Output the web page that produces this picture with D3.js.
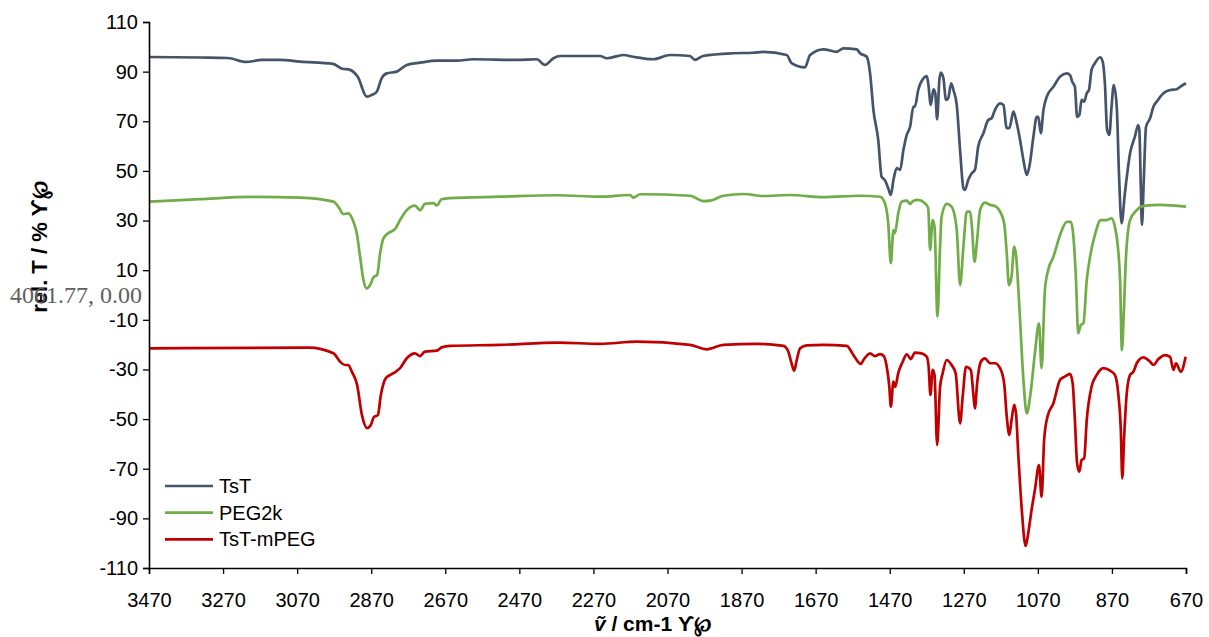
<!DOCTYPE html>
<html>
<head>
<meta charset="utf-8">
<script src="https://cdn.jsdelivr.net/npm/d3@7"></script>
<style>
  body { margin: 0; background: #fff; }
  text { font-family: "Liberation Sans", Arial, sans-serif; }
</style>
</head>
<body>
<div id="chart"></div>
<script>
// series names + colours
var seriesNames = ["TsT", "PEG2k", "TsT-mPEG"];
var seriesColors = ["#44546A", "#70AD47", "#C00000"];

// [wavenumber, rel. T]
var tst = [
  [3470,95.9],[3332,95.7],[3257,95.5],[3208,93.9],[3165,94.7],[3116,94.7],[3062,94.0],[2973,93.1],
  [2950,91.3],[2927,90.7],[2906,87.8],[2882,79.9],[2869,80.6],[2855,81.9],[2842,87.3],[2828,89.3],
  [2801,90.0],[2774,92.7],[2738,93.6],[2693,94.4],[2639,94.4],[2595,95.0],[2477,94.7],[2423,95.0],
  [2401,92.7],[2378,95.4],[2360,96.3],[2252,96.3],[2234,95.4],[2189,96.7],[2163,96.0],[2109,95.0],
  [2063,96.7],[2009,96.3],[1996,94.7],[1974,96.3],[1893,97.4],[1839,97.6],[1812,98.0],[1748,96.7],
  [1735,93.4],[1699,91.7],[1685,96.7],[1649,99.0],[1613,98.0],[1595,99.4],[1559,99.0],[1550,97.4],
  [1532,96.0],[1523,89.3],[1514,74.5],[1501,62.5],[1492,47.7],[1483,46.3],[1474,43.0],[1467,40.3],
  [1460,46.3],[1451,51.1],[1442,50.4],[1433,58.4],[1424,64.5],[1415,67.8],[1406,75.9],[1402,75.9],
  [1393,82.6],[1379,87.3],[1370,88.2],[1366,85.3],[1359,76.6],[1352,82.9],[1347,81.3],[1342,70.8],
  [1336,86.6],[1332,89.6],[1325,87.3],[1318,78.6],[1312,79.3],[1304,85.3],[1298,82.6],[1289,76.6],
  [1280,58.4],[1271,43.0],[1267,42.3],[1258,46.3],[1249,49.0],[1240,50.4],[1231,59.8],[1217,65.2],
  [1204,70.5],[1195,71.2],[1186,74.5],[1172,77.2],[1163,76.6],[1154,67.2],[1147,67.2],[1136,73.9],
  [1127,69.2],[1118,62.5],[1109,54.4],[1100,48.4],[1093,51.7],[1082,63.8],[1073,71.8],[1069,71.8],
  [1062,65.2],[1055,74.5],[1046,79.9],[1028,83.9],[1010,88.0],[992,89.3],[983,88.6],[977,85.9],
  [970,83.9],[964,71.8],[958,72.5],[952,78.6],[945,77.9],[938,81.3],[932,82.6],[925,90.7],
  [916,93.4],[902,95.8],[895,94.0],[889,85.3],[883,66.5],[877,64.5],[871,75.9],[865,84.6],
  [857,75.9],[851,49.0],[844,28.9],[835,41.0],[821,57.1],[808,63.8],[799,68.5],[796,66.5],
  [792,43.6],[789,28.2],[784,46.3],[778,67.8],[767,71.2],[758,75.9],[749,77.9],[731,81.3],
  [713,82.6],[695,82.9],[686,83.9],[670,85.3]
];

var peg2k = [
  [3470,37.6],[3332,38.6],[3197,39.5],[3062,39.2],[2972,37.6],[2959,35.6],[2945,32.6],[2932,32.9],
  [2918,29.5],[2909,24.9],[2900,15.4],[2891,6.0],[2882,2.7],[2873,4.0],[2864,7.1],[2854,8.1],
  [2846,16.8],[2837,22.8],[2824,24.9],[2806,26.5],[2792,30.2],[2774,34.2],[2752,36.0],[2738,34.2],
  [2725,36.7],[2702,37.0],[2693,36.1],[2680,38.6],[2657,39.0],[2522,39.6],[2369,40.2],[2252,39.6],
  [2171,40.3],[2162,39.2],[2144,40.6],[2009,40.0],[1973,37.8],[1955,38.0],[1919,40.0],[1865,40.7],
  [1811,39.9],[1739,40.3],[1649,39.4],[1550,40.0],[1496,39.6],[1483,37.0],[1474,28.9],[1467,12.8],
  [1460,26.2],[1456,24.9],[1447,32.9],[1438,37.6],[1424,38.0],[1415,36.7],[1406,38.0],[1393,38.3],
  [1375,37.0],[1366,34.9],[1361,18.1],[1354,30.2],[1349,27.5],[1341,-8.7],[1334,19.5],[1330,31.5],
  [1316,36.7],[1303,35.6],[1289,26.2],[1280,4.0],[1271,19.5],[1262,33.6],[1253,33.6],[1248,27.5],
  [1241,13.4],[1234,22.2],[1226,34.2],[1213,37.2],[1199,36.3],[1186,35.9],[1172,33.6],[1161,28.9],
  [1154,16.8],[1148,4.0],[1141,7.4],[1134,19.5],[1129,16.1],[1120,-4.7],[1109,-34.2],[1100,-47.7],
  [1091,-41.0],[1078,-23.5],[1067,-11.4],[1060,-29.5],[1051,2.0],[1042,10.1],[1028,15.4],[1010,24.2],
  [992,29.5],[981,29.5],[974,23.5],[967,6.0],[961,-15.4],[954,-12.1],[947,-11.4],[938,6.0],
  [929,15.4],[916,24.2],[900,30.2],[884,30.2],[871,30.9],[862,27.5],[854,19.5],[848,6.0],
  [843,-22.2],[838,-7.4],[832,15.4],[821,30.2],[803,34.2],[785,35.9],[740,36.3],[670,35.6]
];

var tstMpeg = [
  [3470,-21.5],[3038,-21.2],[2972,-23.5],[2954,-26.9],[2941,-28.2],[2932,-28.2],[2922,-31.0],[2908,-36.3],
  [2895,-48.4],[2881,-53.6],[2871,-52.4],[2863,-49.2],[2852,-48.4],[2844,-40.3],[2830,-33.4],[2809,-31.4],
  [2792,-29.5],[2774,-25.5],[2752,-23.5],[2738,-24.6],[2725,-22.8],[2693,-22.4],[2680,-21.1],[2657,-20.5],
  [2522,-20.1],[2365,-19.2],[2252,-19.7],[2153,-18.8],[2009,-20.1],[1964,-21.9],[1919,-20.1],[1829,-19.7],
  [1757,-20.5],[1744,-22.8],[1735,-27.5],[1728,-30.5],[1721,-26.2],[1712,-21.5],[1694,-20.3],[1649,-20.1],
  [1586,-20.5],[1568,-24.2],[1548,-27.8],[1541,-26.2],[1523,-23.5],[1510,-24.6],[1496,-23.8],[1486,-24.6],
  [1478,-28.9],[1471,-37.0],[1467,-45.0],[1460,-34.9],[1455,-37.0],[1447,-31.5],[1435,-26.9],[1424,-23.9],
  [1413,-25.8],[1402,-23.2],[1384,-23.5],[1370,-24.9],[1365,-28.9],[1360,-40.3],[1354,-30.2],[1349,-32.2],
  [1342,-60.4],[1334,-37.0],[1327,-31.5],[1316,-26.2],[1303,-28.2],[1292,-31.5],[1280,-51.7],[1273,-41.0],
  [1264,-28.9],[1251,-30.2],[1244,-40.3],[1240,-45.7],[1234,-35.6],[1224,-26.9],[1213,-25.5],[1199,-27.5],
  [1186,-27.5],[1172,-29.5],[1161,-35.6],[1154,-49.0],[1147,-56.4],[1141,-50.4],[1134,-44.3],[1129,-47.7],
  [1123,-63.8],[1114,-85.3],[1103,-101.1],[1096,-96.0],[1087,-86.6],[1078,-78.6],[1067,-68.5],[1060,-81.3],
  [1053,-58.4],[1044,-49.0],[1028,-43.6],[1010,-34.2],[997,-32.9],[983,-31.8],[976,-35.6],[970,-50.4],
  [964,-67.8],[958,-71.2],[952,-66.5],[945,-65.8],[938,-50.4],[925,-37.0],[911,-32.2],[893,-29.5],
  [875,-30.5],[862,-32.2],[853,-39.6],[846,-54.4],[842,-73.9],[837,-57.1],[830,-39.6],[821,-32.2],
  [812,-30.9],[803,-27.5],[785,-25.1],[767,-26.9],[758,-28.2],[745,-25.9],[727,-24.2],[713,-24.9],
  [704,-30.2],[697,-27.5],[684,-30.9],[671,-24.9]
];

var xTicks = d3.range(3470, 669, -200);
var yTicks = d3.range(-110, 111, 20);

var width = 1209, height = 637;
var margin = {left: 149, right: 23, top: 22, bottom: 69};

var svg = d3.select("#chart").append("svg")
    .attr("width", width)
    .attr("height", height);

var x = d3.scaleLinear().domain([3470, 670]).range([margin.left, width - margin.right]);
var y = d3.scaleLinear().domain([-110, 110]).range([height - margin.bottom, margin.top]);

var line = d3.line()
    .x(d => x(d[0]))
    .y(d => y(d[1]))
    .curve(d3.curveMonotoneX);

var allSeries = [tst, peg2k, tstMpeg];

svg.selectAll(".spec")
    .data(allSeries)
    .enter().append("path")
    .attr("class", "spec")
    .attr("fill", "none")
    .attr("stroke", (d, i) => seriesColors[i])
    .attr("stroke-width", 2.7)
    .attr("stroke-linejoin", "round")
    .attr("d", line);

// axes (plain hyphen for negatives, like the original)
var plain = d => String(d);

var xAxis = svg.append("g")
    .attr("transform", "translate(0," + y(-110) + ")")
    .call(d3.axisBottom(x).tickValues(xTicks).tickSize(6).tickPadding(19).tickFormat(plain));

var yAxis = svg.append("g")
    .attr("transform", "translate(" + margin.left + ",0)")
    .call(d3.axisLeft(y).tickValues(yTicks).tickSize(6).tickPadding(5).tickFormat(plain));

[xAxis, yAxis].forEach(function (g) {
    g.select(".domain").attr("stroke", "#000").attr("stroke-width", 1.6);
    g.selectAll(".tick line").attr("stroke", "#000").attr("stroke-width", 1.3);
    g.selectAll(".tick text")
        .attr("fill", "#000")
        .style("font-family", "'Liberation Sans', Arial, sans-serif")
        .style("font-size", "20px");
});

// axis titles
svg.append("text")
    .attr("x", 653)
    .attr("y", 631)
    .attr("text-anchor", "middle")
    .style("font-size", "21px")
    .style("font-weight", "bold")
    .html('<tspan font-style="italic">ṽ</tspan> / cm-1 ϒ℘');

svg.append("text")
    .attr("transform", "translate(47,247) rotate(-90)")
    .attr("text-anchor", "middle")
    .style("font-size", "22px")
    .style("font-weight", "bold")
    .text("rel. T / % ϒ℘");

// leftover cursor readout
svg.append("text")
    .attr("x", 10)
    .attr("y", 303)
    .style("font-family", "'Liberation Serif', 'Times New Roman', serif")
    .style("font-size", "24px")
    .attr("fill", "#5f5f5f")
    .text("4061.77, 0.00");

// legend
var legend = svg.append("g").attr("transform", "translate(165,486)");
seriesNames.forEach(function (name, i) {
    var row = legend.append("g").attr("transform", "translate(0," + (i * 26.7) + ")");
    row.append("line")
        .attr("x1", 0).attr("x2", 48)
        .attr("stroke", seriesColors[i])
        .attr("stroke-width", 2.7);
    row.append("text")
        .attr("x", 54)
        .attr("y", 7)
        .style("font-size", "20px")
        .attr("fill", "#000")
        .text(name);
});
</script>
</body>
</html>
